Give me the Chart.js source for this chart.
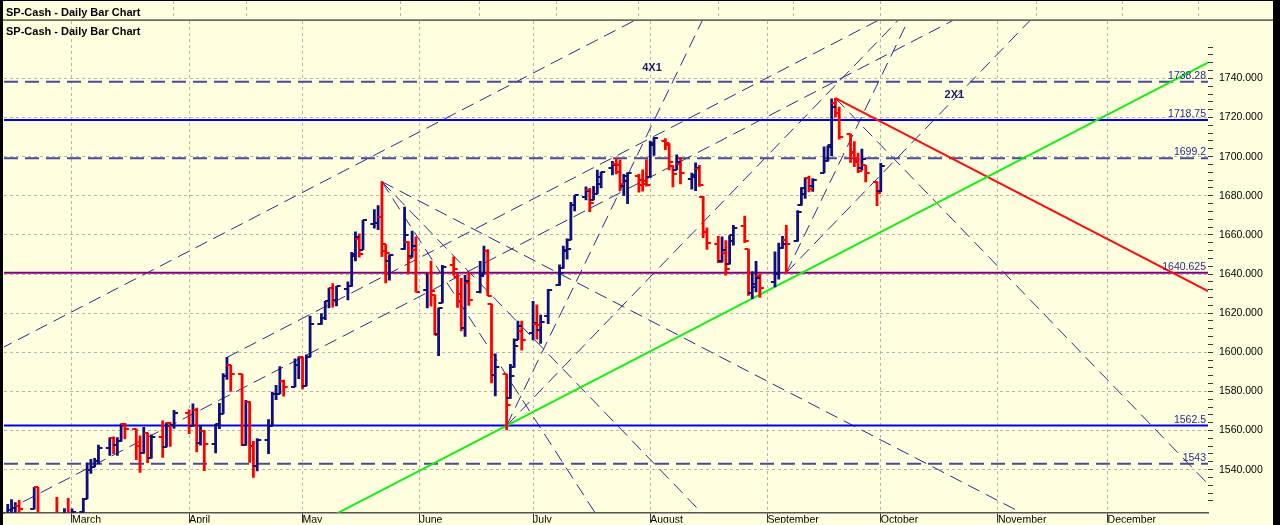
<!DOCTYPE html>
<html><head><meta charset="utf-8">
<script src="https://cdn.jsdelivr.net/npm/chart.js@4.4.1/dist/chart.umd.min.js"></script>
<style>html,body{margin:0;padding:0;background:#FFFFE0;overflow:hidden}canvas{display:block}</style>
</head><body><canvas id="c" width="1280" height="525"></canvas>
<script>
// ---------------- DATA ----------------
const barDates = [
'2013-02-11','2013-02-12','2013-02-13','2013-02-14','2013-02-15','2013-02-19','2013-02-20','2013-02-21','2013-02-22','2013-02-25','2013-02-26','2013-02-27','2013-02-28',
'2013-03-01','2013-03-04','2013-03-05','2013-03-06','2013-03-07','2013-03-08','2013-03-11','2013-03-12','2013-03-13','2013-03-14','2013-03-15','2013-03-18','2013-03-19','2013-03-20','2013-03-21','2013-03-22','2013-03-25','2013-03-26','2013-03-27','2013-03-28',
'2013-04-01','2013-04-02','2013-04-03','2013-04-04','2013-04-05','2013-04-08','2013-04-09','2013-04-10','2013-04-11','2013-04-12','2013-04-15','2013-04-16','2013-04-17','2013-04-18','2013-04-19','2013-04-22','2013-04-23','2013-04-24','2013-04-25','2013-04-26','2013-04-29','2013-04-30',
'2013-05-01','2013-05-02','2013-05-03','2013-05-06','2013-05-07','2013-05-08','2013-05-09','2013-05-10','2013-05-13','2013-05-14','2013-05-15','2013-05-16','2013-05-17','2013-05-20','2013-05-21','2013-05-22','2013-05-23','2013-05-24','2013-05-28','2013-05-29','2013-05-30','2013-05-31',
'2013-06-03','2013-06-04','2013-06-05','2013-06-06','2013-06-07','2013-06-10','2013-06-11','2013-06-12','2013-06-13','2013-06-14','2013-06-17','2013-06-18','2013-06-19','2013-06-20','2013-06-21','2013-06-24','2013-06-25','2013-06-26','2013-06-27','2013-06-28',
'2013-07-01','2013-07-02','2013-07-03','2013-07-05','2013-07-08','2013-07-09','2013-07-10','2013-07-11','2013-07-12','2013-07-15','2013-07-16','2013-07-17','2013-07-18','2013-07-19','2013-07-22','2013-07-23','2013-07-24','2013-07-25','2013-07-26','2013-07-29','2013-07-30','2013-07-31',
'2013-08-01','2013-08-02','2013-08-05','2013-08-06','2013-08-07','2013-08-08','2013-08-09','2013-08-12','2013-08-13','2013-08-14','2013-08-15','2013-08-16','2013-08-19','2013-08-20','2013-08-21','2013-08-22','2013-08-23','2013-08-26','2013-08-27','2013-08-28','2013-08-29','2013-08-30',
'2013-09-03','2013-09-04','2013-09-05','2013-09-06','2013-09-09','2013-09-10','2013-09-11','2013-09-12','2013-09-13','2013-09-16','2013-09-17','2013-09-18','2013-09-19','2013-09-20','2013-09-23','2013-09-24','2013-09-25','2013-09-26','2013-09-27','2013-09-30',
'2013-10-01'];
const opens = [
1517.93,1517.01,1519.43,1520.33,1521.38,1519.79,1530.94,1511.95,1502.42,1515.60,1487.85,1496.94,1515.99,
1514.68,1518.20,1525.20,1539.79,1541.46,1544.26,1551.15,1556.22,1552.48,1554.52,1563.21,1560.70,1552.10,1548.34,1558.71,1545.90,1556.89,1551.69,1563.75,1562.86,
1569.18,1562.17,1570.25,1553.69,1559.98,1553.26,1563.11,1568.61,1587.73,1593.30,1588.84,1552.36,1574.57,1552.03,1541.61,1555.25,1562.50,1578.78,1578.78,1585.16,1582.34,1593.58,
1597.55,1582.77,1597.60,1614.40,1617.55,1625.95,1632.69,1626.69,1632.10,1633.75,1649.13,1658.07,1652.45,1665.71,1666.20,1669.39,1651.62,1646.67,1652.63,1656.57,1649.14,1652.13,
1631.71,1640.73,1629.05,1609.29,1625.27,1644.67,1638.64,1629.94,1612.15,1635.52,1630.64,1639.77,1651.83,1624.62,1588.62,1588.77,1576.45,1592.27,1606.44,1611.12,
1609.78,1614.29,1611.48,1618.65,1634.20,1642.89,1651.56,1657.41,1675.26,1679.59,1682.70,1677.91,1681.05,1686.15,1694.41,1696.06,1695.95,1685.21,1687.31,1690.32,1687.92,1687.76,
1689.42,1706.10,1708.01,1705.79,1695.30,1693.35,1696.10,1688.37,1690.65,1693.88,1679.61,1661.22,1655.25,1646.81,1650.66,1645.03,1659.92,1664.29,1652.54,1630.25,1633.50,1638.89,
1635.95,1640.72,1653.28,1657.44,1656.85,1675.11,1681.04,1689.21,1685.04,1691.70,1697.73,1705.74,1727.34,1722.44,1711.44,1702.60,1698.02,1694.05,1695.52,1687.26,
1682.41];
const highs = [
1518.31,1522.29,1524.69,1523.14,1524.24,1530.94,1530.94,1511.95,1515.64,1525.84,1498.99,1520.08,1525.34,
1519.99,1525.27,1543.47,1545.25,1545.78,1552.48,1556.27,1556.77,1556.39,1563.32,1563.62,1560.70,1557.25,1561.56,1558.71,1557.74,1564.91,1563.95,1564.07,1570.28,
1570.57,1573.66,1571.47,1562.60,1559.98,1563.07,1573.89,1589.07,1597.35,1593.30,1588.84,1575.35,1574.57,1554.38,1555.89,1565.55,1579.58,1583.00,1592.64,1585.78,1596.65,1597.57,
1597.55,1598.60,1618.46,1619.77,1626.03,1632.78,1635.01,1633.70,1636.00,1651.10,1661.49,1660.51,1667.47,1672.84,1674.93,1687.18,1655.03,1649.78,1674.21,1656.57,1661.91,1658.99,
1640.42,1646.53,1629.31,1622.56,1644.40,1648.69,1640.13,1637.71,1639.25,1640.80,1646.50,1654.19,1652.45,1624.62,1599.19,1588.77,1593.79,1606.83,1615.94,1615.94,
1626.03,1624.26,1618.97,1632.07,1644.68,1654.18,1657.92,1676.63,1680.19,1684.51,1683.73,1684.75,1693.12,1692.09,1697.61,1698.78,1698.38,1690.94,1691.85,1690.92,1693.19,1698.43,
1707.85,1709.67,1709.24,1706.65,1695.30,1700.85,1699.42,1691.49,1696.81,1695.52,1679.61,1663.60,1659.18,1658.92,1656.99,1659.55,1664.85,1669.51,1652.54,1641.18,1646.41,1640.08,
1651.35,1655.72,1659.17,1664.83,1672.40,1684.09,1689.13,1689.97,1688.73,1704.95,1705.52,1729.44,1729.86,1725.23,1711.44,1707.63,1701.71,1703.85,1695.52,1687.26,
1696.55];
const lows = [
1513.61,1515.61,1515.93,1514.02,1514.14,1519.79,1511.41,1497.29,1502.42,1487.85,1485.01,1494.88,1514.46,
1501.48,1512.29,1525.20,1538.11,1541.46,1542.94,1547.36,1548.24,1547.25,1554.52,1555.74,1545.13,1538.57,1548.34,1543.55,1545.90,1546.22,1551.69,1551.90,1561.08,
1558.47,1562.17,1549.07,1552.52,1539.50,1548.64,1560.92,1568.61,1586.17,1579.97,1552.28,1552.36,1543.69,1536.03,1539.40,1548.19,1562.50,1575.80,1578.78,1577.56,1582.34,1586.50,
1581.28,1582.77,1597.60,1614.21,1616.64,1622.70,1623.09,1623.71,1626.74,1633.75,1646.68,1648.60,1652.45,1663.52,1662.67,1648.86,1635.53,1636.88,1652.63,1640.05,1648.61,1630.74,
1622.72,1623.62,1608.90,1598.23,1625.27,1639.26,1622.92,1610.92,1608.07,1623.96,1630.34,1639.77,1628.91,1584.32,1577.70,1560.33,1576.45,1592.27,1606.44,1601.06,
1606.28,1606.77,1604.57,1614.71,1634.20,1642.89,1647.66,1657.41,1672.33,1677.89,1671.84,1677.91,1681.05,1684.08,1690.67,1691.13,1682.57,1680.07,1676.03,1681.86,1682.42,1684.94,
1689.42,1700.68,1703.55,1693.24,1684.51,1693.35,1686.02,1683.35,1682.62,1684.83,1658.59,1652.61,1645.84,1646.08,1639.43,1645.03,1654.81,1656.02,1629.05,1627.47,1630.88,1628.05,
1633.41,1637.41,1653.07,1640.62,1656.85,1675.11,1678.70,1681.96,1682.22,1691.70,1697.73,1700.35,1720.20,1708.89,1697.10,1694.90,1691.88,1693.11,1687.11,1674.99,
1682.07];
const closes = [
1517.01,1519.43,1520.33,1521.38,1519.79,1530.94,1511.95,1502.42,1515.60,1487.85,1496.94,1515.99,1514.68,
1518.20,1525.20,1539.79,1541.46,1544.26,1551.18,1556.22,1552.48,1554.52,1563.23,1560.70,1552.10,1548.34,1558.71,1545.80,1556.89,1551.69,1563.77,1562.85,1569.19,
1562.17,1570.25,1553.69,1559.98,1553.28,1563.07,1568.61,1587.73,1593.37,1588.85,1552.36,1574.57,1552.01,1541.61,1555.25,1562.50,1578.78,1578.79,1585.16,1582.24,1593.61,1597.57,
1582.70,1597.59,1614.42,1617.50,1625.96,1632.69,1626.67,1633.70,1633.77,1650.34,1658.78,1650.47,1667.47,1666.29,1669.16,1655.35,1650.51,1649.60,1660.06,1648.36,1654.41,1630.74,
1640.42,1631.38,1608.90,1622.56,1643.38,1642.81,1626.13,1612.52,1636.36,1626.73,1639.04,1651.81,1628.93,1588.19,1592.43,1573.09,1588.03,1603.26,1613.20,1606.28,
1614.96,1614.08,1615.41,1631.89,1640.46,1652.32,1652.62,1675.02,1680.19,1682.50,1676.26,1680.91,1689.37,1692.09,1695.53,1692.39,1685.94,1690.25,1691.65,1685.33,1685.96,1685.73,
1706.87,1709.67,1707.14,1697.37,1690.91,1697.48,1691.42,1689.47,1694.16,1685.39,1661.32,1655.83,1646.06,1652.35,1642.80,1656.96,1663.50,1656.78,1630.48,1634.96,1638.17,1632.97,
1639.77,1653.08,1655.08,1655.17,1671.71,1683.99,1689.13,1683.42,1687.99,1697.60,1704.76,1725.52,1722.34,1709.91,1701.84,1697.42,1692.77,1698.67,1691.75,1681.55,
1695.00];

// horizontal price levels
const levelPrices = [1738.28, 1718.75, 1699.2, 1640.625, 1562.5, 1543];
const levelLabels = ['1738.28', '1718.75', '1699.2', '1640.625', '1562.5', '1543'];

// solid trend lines (anchor + slope in points per calendar day)
const trendDates  = ['2013-06-24', '2013-09-19'];
const trendPrices = [1562.5, 1729.86];
const trendSlopes = [1, -1];

// dashed Gann angle lines (anchor + slope in points per calendar day)
const fanDates  = ['2013-09-19','2013-05-22','2013-05-22','2013-05-22','2013-06-24','2013-06-24','2013-09-06','2013-09-06','2013-02-10','2013-04-11','2013-02-16'];
const fanPrices = [1729.86,    1687.18,     1687.18,     1687.18,     1562.5,      1562.5,      1640.62,     1640.62,     1601.7,      1597.35,     1523.5];
const fanSlopes = [-2,         -1,          -2,          -3,          4,           2,           2,           4,           1,           1,           1];

// axes
const monthTickDates = ['2013-03-01','2013-04-01','2013-05-01','2013-06-01','2013-07-01','2013-08-01','2013-09-01','2013-10-01','2013-11-01','2013-11-30'];
const monthNames = ['March','April','May','June','July','August','September','October','November','December'];
const priceTickStep = 4, priceLabelStep = 20;
const priceTickRange = [1524, 1756];
const priceGridRange = [1540, 1740];
const angleLabels = [{text:'4X1', date:'2013-08-01', price:1745.3}, {text:'2X1', date:'2013-10-20', price:1731.3}];
const title = 'SP-Cash - Daily Bar Chart';

// ---------------- STYLE / VIEW ----------------
const FONT = '"Liberation Sans", Arial, sans-serif';
const BG = '#FFFFE0', UP = '#0e0e7c', DOWN = '#ff0000';
const levelStyles = [
  {color:'#4a4a98', width:2, dash:[14,7]},
  {color:'#0000ff', width:2, dash:[]},
  {color:'#4a4a98', width:2, dash:[14,7]},
  {color:'#800080', width:2, dash:[]},
  {color:'#0000ff', width:2, dash:[]},
  {color:'#4a4a98', width:2, dash:[14,7]}];
const X_MIN = 41.01, X_MAX = 359.58, Y_MIN = 1517.99, Y_MAX = 1769.32;
const stripGridX = [173,246,400,479,556,638,718,793,880,1036,1122,1198];

function dayOf(s){ const [y,m,d] = s.split('-').map(Number); return (Date.UTC(y,m-1,d) - Date.UTC(2013,0,1)) / 86400000; }

const barDays = barDates.map(dayOf);
const barDs = {
  type:'bar', order:0, label:'SP-Cash',
  data: barDays.map((d,i)=>({x:d, y:[lows[i], highs[i]]})),
  backgroundColor: barDays.map((d,i)=> closes[i] >= opens[i] ? UP : DOWN),
  barThickness:2, borderWidth:0, grouped:false, inflateAmount:0.4
};
function lineThrough(date, price, slope, back){
  const d0 = dayOf(date);
  const ds = back ? X_MIN - 2 : d0, de = X_MAX + 2;
  return [{x:ds, y:price + slope*(ds-d0)}, {x:de, y:price + slope*(de-d0)}];
}
const datasets = [barDs];
fanDates.forEach((dt,i)=>datasets.push({type:'line', order:3, data:lineThrough(dt, fanPrices[i], fanSlopes[i], false),
  borderColor:'#2a2a8c', borderWidth:1, borderDash:[13,7], pointRadius:0, fill:false, tension:0}));
levelPrices.forEach((p,i)=>datasets.push({type:'line', order:2, data:[{x:X_MIN,y:p},{x:X_MAX,y:p}],
  borderColor:levelStyles[i].color, borderWidth:levelStyles[i].width, borderDash:levelStyles[i].dash, pointRadius:0, fill:false}));
trendDates.forEach((dt,i)=>datasets.push({type:'line', order:1, data:lineThrough(dt, trendPrices[i], trendSlopes[i], trendSlopes[i] > 0),
  borderColor: trendSlopes[i] > 0 ? '#14f014' : '#ff0a0a', borderWidth:2, pointRadius:0, fill:false, tension:0}));

const decor = {
  id:'decor',
  beforeDraw(chart){ const c = chart.ctx; c.save(); c.fillStyle = BG; c.fillRect(0,0,chart.width,chart.height); c.restore(); },
  afterDatasetsDraw(chart){
    const {ctx, chartArea:ca, scales:{x, y}} = chart;
    ctx.save();
    ctx.beginPath(); ctx.rect(ca.left, ca.top, ca.right-ca.left, ca.bottom-ca.top); ctx.clip();
    ctx.lineWidth = 2;
    barDays.forEach((d,i)=>{
      const px = x.getPixelForValue(d);
      ctx.strokeStyle = closes[i] >= opens[i] ? UP : DOWN;
      const yo = Math.round(y.getPixelForValue(opens[i])), yc = Math.round(y.getPixelForValue(closes[i]));
      ctx.beginPath(); ctx.moveTo(px-4, yo); ctx.lineTo(px, yo); ctx.moveTo(px, yc); ctx.lineTo(px+4, yc); ctx.stroke();
    });
    ctx.restore();
    ctx.save();
    ctx.font = '10.5px ' + FONT; ctx.fillStyle = '#2a2a8a'; ctx.textAlign = 'right'; ctx.textBaseline = 'alphabetic';
    levelPrices.forEach((p,i)=>{ ctx.fillText(levelLabels[i], ca.right - 2, y.getPixelForValue(p) - 3); });
    ctx.font = 'bold 11px ' + FONT; ctx.fillStyle = '#1a1a70'; ctx.textAlign = 'left'; ctx.textBaseline = 'middle';
    angleLabels.forEach(l=>{ ctx.fillText(l.text, x.getPixelForValue(dayOf(l.date)) - 8, y.getPixelForValue(l.price)); });
    ctx.fillStyle = '#000'; ctx.textBaseline = 'alphabetic';
    ctx.fillText(title, 6, 35);
    ctx.restore();
  },
  afterDraw(chart){
    const c = chart.ctx, ca = chart.chartArea; c.save();
    c.fillStyle = BG; c.fillRect(3, 1, 1270, 19);
    c.strokeStyle = '#b4b4b4'; c.lineWidth = 1; c.setLineDash([3,3]);
    stripGridX.forEach(px=>{ c.beginPath(); c.moveTo(px+0.5, 1); c.lineTo(px+0.5, 19); c.stroke(); });
    c.setLineDash([]);
    c.fillStyle = '#000'; c.font = 'bold 11px ' + FONT; c.fillText(title, 6, 15.5);
    c.fillStyle = '#2a2a2a'; c.fillRect(3, 19.5, 1270, 1.2);
    c.fillStyle = '#555'; c.fillRect(0, ca.bottom - 0.5, ca.left + 1, 1.5);
    c.fillStyle = '#000'; c.fillRect(0,0,1280,1); c.fillRect(0,0,3,525); c.fillRect(1273,0,7,525);
    c.restore();
  }
};

new Chart(document.getElementById('c'), {
  type:'bar',
  data:{datasets},
  options:{
    responsive:false, animation:false, devicePixelRatio:1,
    layout:{padding:{left:4, top:21, right:0, bottom:0}},
    plugins:{legend:{display:false}, tooltip:{enabled:false}, title:{display:false}},
    scales:{
      x:{type:'linear', position:'bottom', min:X_MIN, max:X_MAX, offset:false,
        afterBuildTicks:s=>{ s.ticks = monthTickDates.map(d=>({value:dayOf(d)})); },
        afterFit:s=>{ s.height = 10; },
        ticks:{autoSkip:false, maxRotation:0, minRotation:0, align:'start', padding:-9, color:'#000',
          font:{family:FONT, size:10.5}, callback:(v,i)=>monthNames[i]},
        grid:{color:'#b4b4b4', lineWidth:1, tickLength:10, tickColor:'#333', offset:false},
        border:{display:true, color:'#555', width:1.5, dash:[3,3]}},
      y:{type:'linear', position:'right', min:Y_MIN, max:Y_MAX,
        afterBuildTicks:s=>{ const t=[]; for(let v=priceTickRange[0]; v<=priceTickRange[1]; v+=priceTickStep) t.push({value:v}); s.ticks = t; },
        afterFit:s=>{ s.width = 72; },
        ticks:{autoSkip:false, padding:6, color:'#000', font:{family:FONT, size:10.5},
          callback:v=> v % priceLabelStep === 0 ? v.toFixed(3) : ''},
        grid:{color:c=> (c.tick && c.tick.value % priceLabelStep === 0 && c.tick.value >= priceGridRange[0] && c.tick.value <= priceGridRange[1]) ? '#b4b4b4' : 'rgba(0,0,0,0)',
          lineWidth:1, tickLength:5, tickColor:'#333'},
        border:{display:false, dash:[3,3]}}
    }
  },
  plugins:[decor]
});
</script></body></html>
